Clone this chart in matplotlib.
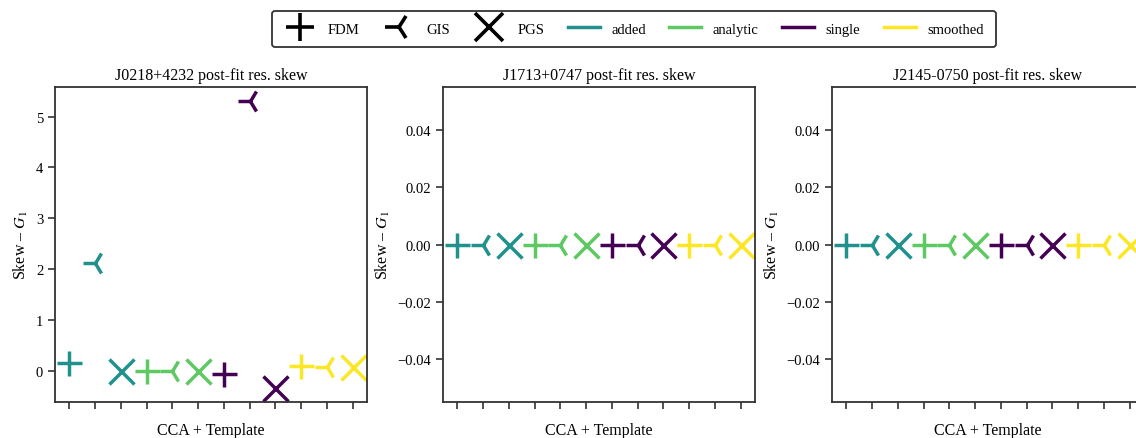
import matplotlib
matplotlib.use("Agg")
from matplotlib import pyplot as plt
from matplotlib.lines import Line2D

plt.rcParams['font.family'] = ['Liberation Serif', 'DejaVu Serif']
plt.rcParams['mathtext.fontset'] = 'stix'

pulsars = ['J0218+4232', 'J1713+0747', 'J2145-0750']
schemes = ['added', 'analytic', 'single', 'smoothed']
estimators = ['FDM', 'GIS', 'PGS']
scheme_colors = ['#21918c', '#5ec962', '#440154', '#fde725']
est_markers = ['+', '3', 'x']

# skew per pulsar, ordered scheme by scheme, FDM/GIS/PGS inside each
skew_J0218 = [0.15, 2.12, 0.0, 0.0, 0.0, 0.0, -0.06, 5.30, -0.33, 0.10, 0.07, 0.07]
skew_J1713 = [0.0] * 12
skew_J2145 = [0.0] * 12
skews = [skew_J0218, skew_J1713, skew_J2145]

fig = plt.figure(figsize=(11.36, 4.39), dpi=100)
lefts = [0.0484, 0.390, 0.7324]
axes = [fig.add_axes([l, 0.082, 0.2746, 0.7175]) for l in lefts]

for ax, name, vals in zip(axes, pulsars, skews):
    k = 0
    for s, col in enumerate(scheme_colors):
        for e, mk in enumerate(est_markers):
            ax.plot(k, vals[k], marker=mk, color=col, ms=18, mew=2.5,
                    linestyle='none')
            k += 1
    ax.set_xticks(range(12))
    ax.set_xticklabels([])
    ax.tick_params(axis='x', length=5, width=1.2, color='#333333')
    ax.tick_params(axis='y', length=5, width=1.2, color='#333333', labelsize=10.5)
    for sp in ax.spines.values():
        sp.set_color('#333333')
        sp.set_linewidth(1.3)
    ax.set_title(f'{name} post-fit res. skew', fontsize=11.5)
    ax.set_xlabel('CCA + Template', fontsize=11.5, labelpad=6)
    ax.set_ylabel(r'Skew – $G_1$', fontsize=11.5)

handles = [Line2D([], [], marker=m, color='black', ms=20, mew=2.6,
                  linestyle='none') for m in est_markers]
handles += [Line2D([], [], color=c, lw=2.5) for c in scheme_colors]
labels = estimators + schemes
leg = fig.legend(handles, labels, loc='upper center', ncol=7,
                 bbox_to_anchor=(0.558, 0.99), fontsize=10.5,
                 frameon=True, edgecolor='black', fancybox=True,
                 borderpad=0.8, handlelength=2.2, columnspacing=1.6)
leg.get_frame().set_linewidth(1.3)

fig.savefig('out.png', dpi=100)
